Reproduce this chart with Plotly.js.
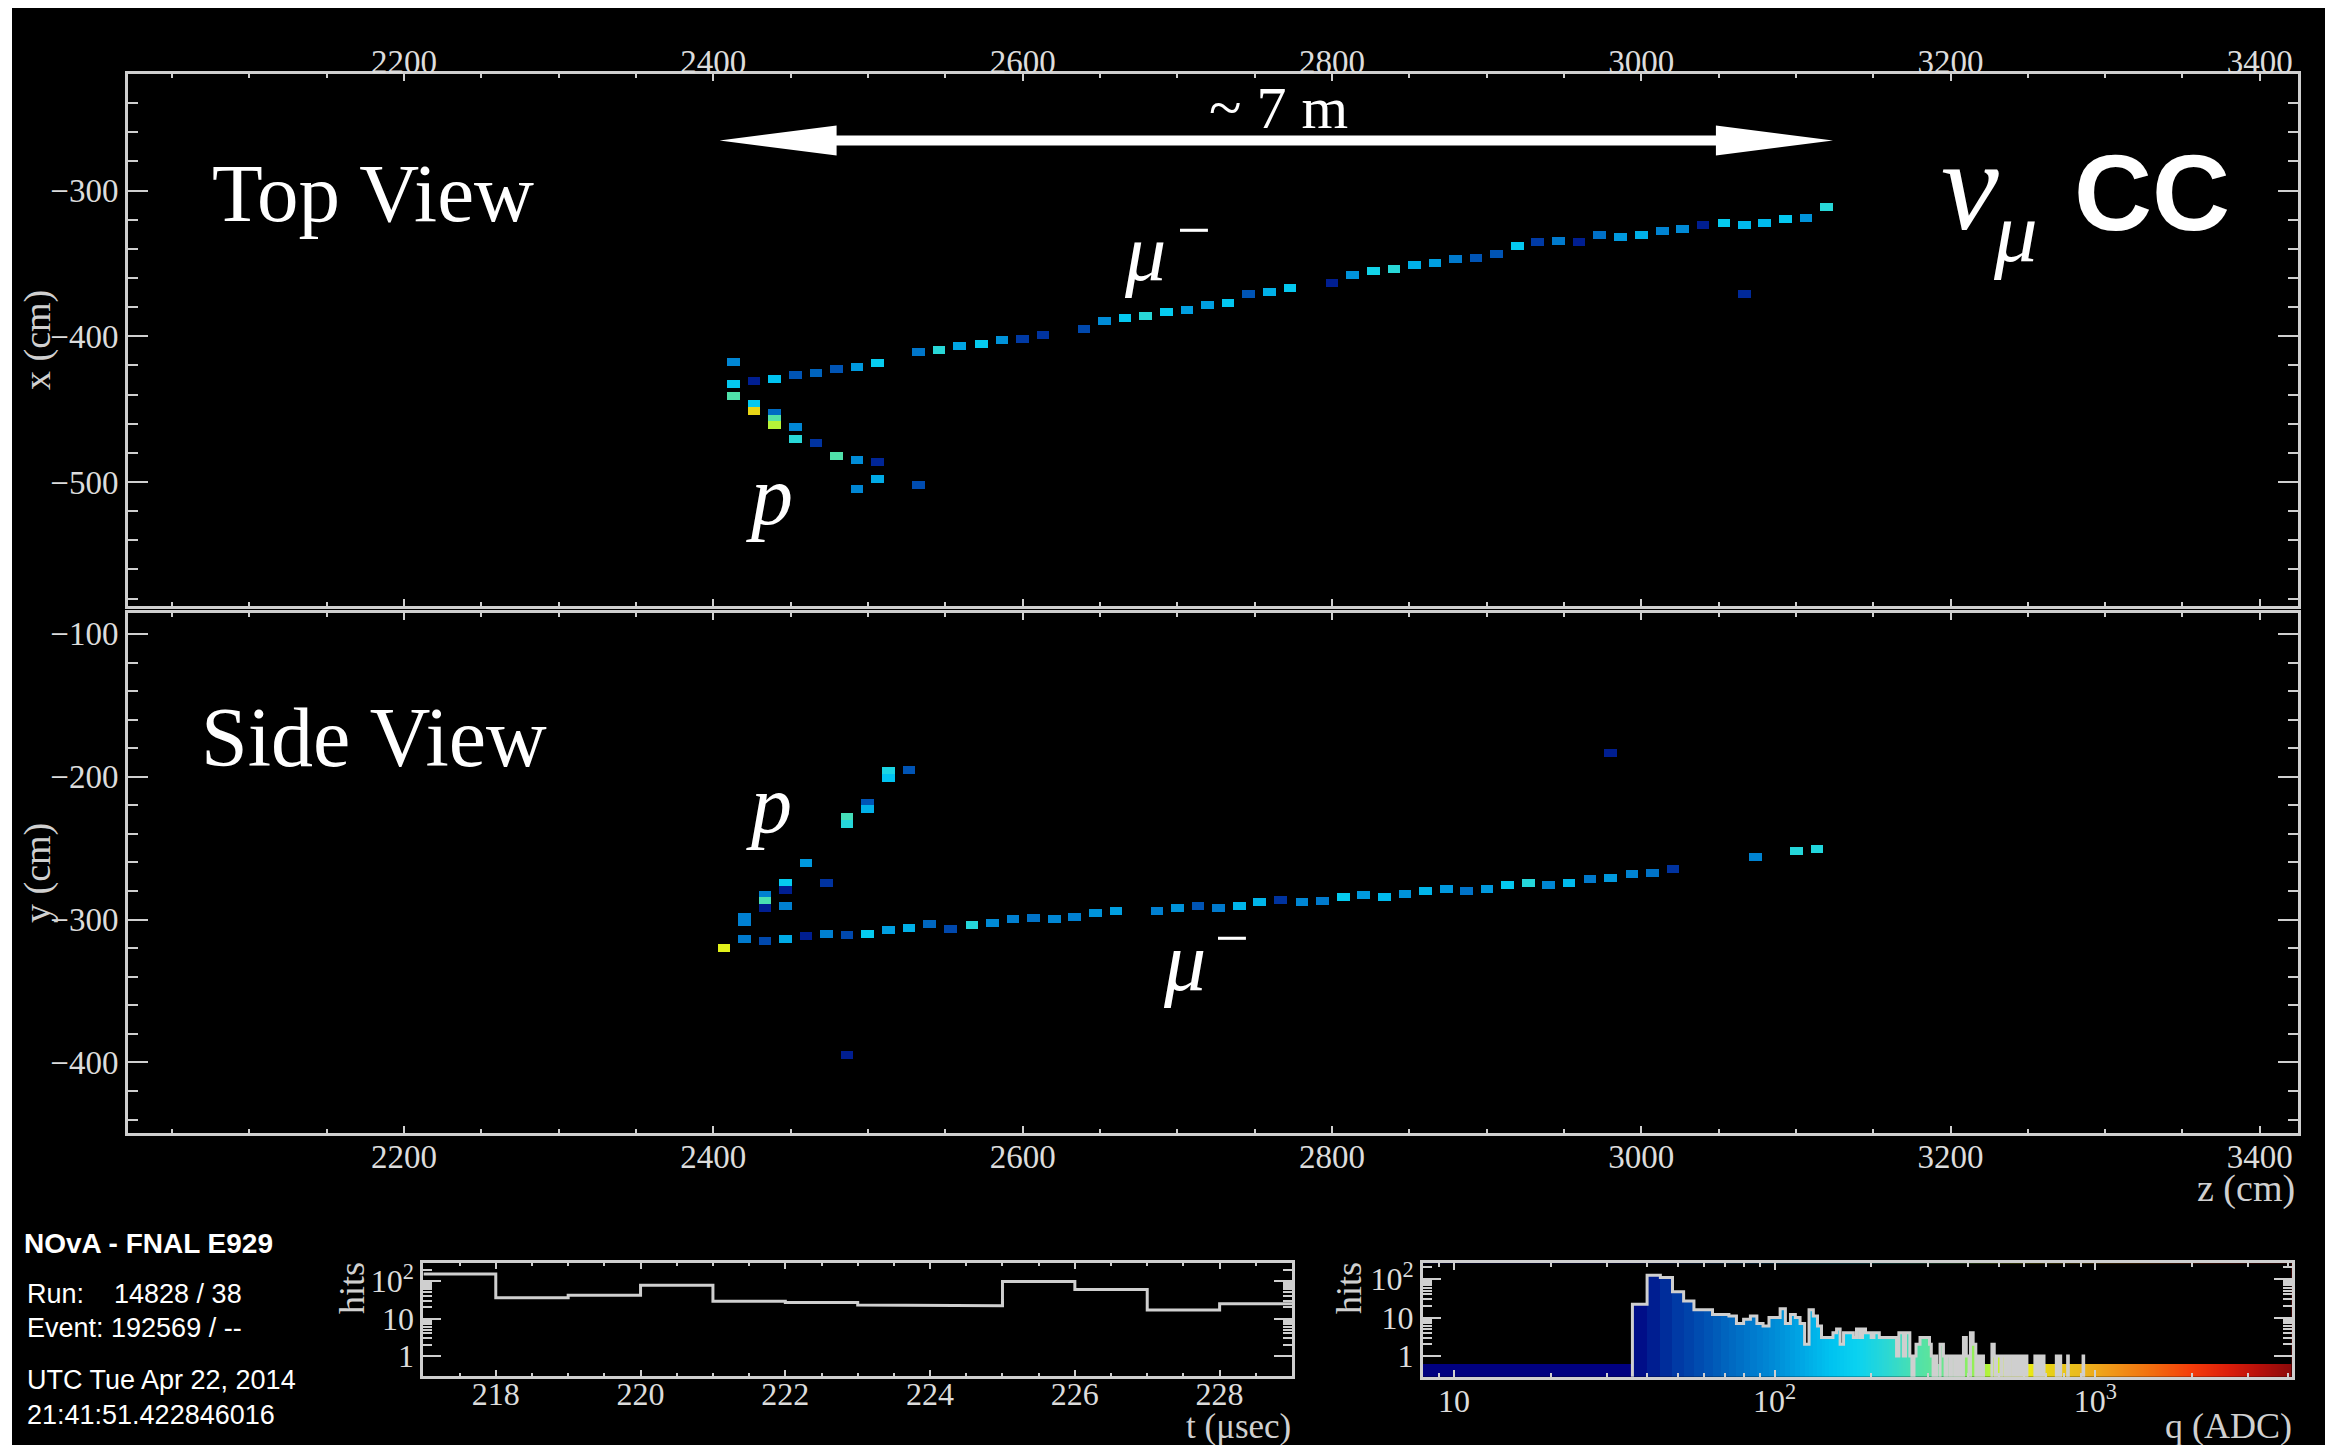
<!DOCTYPE html>
<html><head><meta charset="utf-8">
<script src="https://cdn.plot.ly/plotly-3.0.1.min.js"></script>
<style>html,body{margin:0;padding:0;background:#fff;overflow:hidden}#plot{width:2325px;height:1445px}</style>
</head><body><div id="plot"></div>
<script>
// ================= DATA =================
// Top view hits: z (cm), x (cm), charge q (ADC)
const topZ = [2412.9,2412.9,2412.9,2426.3,2426.3,2426.3,2439.7,2439.7,2439.7,2439.7,2453.0,2453.0,2453.0,2466.4,2466.4,2479.5,2479.5,2492.9,2492.9,2492.9,2506.0,2506.0,2506.0,2532.8,2532.8,2545.9,2559.3,2573.3,2586.7,2599.8,2613.2,2639.7,2653.1,2666.2,2679.6,2693.0,2706.3,2719.7,2732.7,2746.2,2759.7,2772.8,2800.0,2813.2,2826.7,2840.2,2853.3,2866.6,2879.8,2893.2,2906.4,2919.9,2933.1,2946.6,2959.8,2973.0,2986.5,3000.4,3013.6,3026.8,3040.0,3053.5,3066.7,3066.7,3079.9,3093.3,3106.5,3119.7];
const topX = [-417.4,-432.9,-441.0,-430.5,-446.7,-451.3,-429.1,-452.6,-456.5,-461.1,-426.3,-462.3,-470.3,-425.2,-473.0,-422.4,-482.2,-421.3,-484.9,-504.6,-418.6,-486.1,-497.9,-410.8,-502.1,-409.6,-406.9,-405.5,-402.7,-401.6,-398.9,-395.0,-389.7,-387.2,-385.8,-383.3,-381.9,-378.7,-377.4,-371.0,-369.6,-366.8,-363.2,-357.7,-355.2,-353.8,-351.1,-349.9,-347.2,-346.0,-343.3,-338.0,-335.5,-334.4,-335.5,-330.3,-331.6,-330.3,-327.5,-326.4,-323.6,-322.5,-323.6,-370.8,-322.5,-319.7,-318.6,-311.3];
const topQ = [95,160,280,42,160,700,150,75,290,470,62,95,220,70,48,62,280,110,100,95,170,44,125,82,58,220,120,165,105,50,48,56,100,160,220,165,115,115,155,62,130,160,42,105,190,220,130,115,85,62,62,160,50,85,42,78,110,130,92,98,42,165,140,45,140,160,105,220];

// Side view hits: z (cm), y (cm), charge q (ADC)
const sideZ = [2406.9,2420.0,2420.0,2420.0,2433.4,2433.4,2433.4,2433.4,2446.6,2446.6,2446.6,2446.6,2460.0,2460.0,2473.1,2473.1,2486.5,2486.5,2486.5,2486.5,2499.9,2499.9,2499.9,2513.2,2513.2,2513.2,2526.5,2526.5,2539.9,2553.3,2567.3,2580.7,2593.8,2607.2,2620.5,2633.7,2647.1,2660.4,2686.9,2700.0,2713.4,2726.7,2740.1,2753.3,2766.8,2780.7,2793.9,2807.4,2820.6,2833.8,2847.3,2860.5,2873.9,2887.1,2900.3,2913.5,2927.0,2940.2,2953.4,2966.9,2980.1,2980.1,2994.1,3007.3,3020.5,3073.8,3100.5,3113.7];
const sideY = [-319.9,-298.2,-301.9,-313.6,-283.0,-286.8,-291.7,-315.2,-274.4,-279.3,-290.3,-313.8,-260.2,-311.3,-274.4,-309.9,-228.2,-232.9,-311.0,-395.0,-218.4,-222.8,-309.9,-196.0,-200.7,-307.1,-195.3,-306.1,-303.3,-306.4,-303.8,-302.6,-299.6,-298.7,-299.6,-298.0,-295.6,-294.0,-294.0,-291.7,-290.3,-291.7,-290.3,-287.7,-286.3,-287.9,-287.0,-284.0,-283.0,-284.0,-282.1,-279.8,-278.4,-279.8,-278.4,-275.8,-274.6,-275.8,-274.6,-271.8,-270.7,-183.2,-268.1,-267.2,-264.4,-256.2,-251.8,-250.4];
const sideQ = [570,90,90,85,90,270,42,56,165,42,90,125,110,42,48,90,260,215,56,42,62,130,165,200,150,115,62,130,72,56,215,98,90,80,95,90,105,115,90,105,62,85,135,135,48,95,85,165,110,140,105,135,110,80,110,160,215,95,140,85,110,42,92,80,48,92,215,210];

// Timing histogram (1 usec bins)
const timeBinLow = [217,218,219,220,221,222,223,224,225,226,227,228];
const timeCounts = [154,36,42,77,29,27,23,22,98,60,17,25];

// Charge histogram: non-empty 4-ADC bins (lower edge) and their counts
const qBinLow = [36,40,44,48,52,56,60,64,68,72,76,80,84,88,92,96,100,104,108,112,116,120,124,128,132,136,
  140,144,148,152,156,160,164,168,172,176,180,184,188,192,196,200,204,208,212,216,220,224,228,232,236,240,244,248,252,256,260,264,
  272,276,280,284,288,292,296,300,304,308,
  316,328,332,336,344,348,356,360,368,372,380,388,392,396,400,408,412,416,420,428,432,444,476,480,484,
  492,496,500,504,512,516,520,528,532,540,544,548,556,568,576,592,600,608,648,656,664,680,688,756,764,776,820,916];
const qCounts = [22,126,110,47,27,16,16,12,12,11,7,9,11,7,6,10,10,17,7,12,10,7,2,16,11,6,
  3,3,3,4,5,2,4,4,4,3,5,3,5,4,4,3,4,4,3,3,3,3,3,3,3,1,4,4,1,4,4,1,
  1,2,2,3,3,3,3,3,2,1,
  1,2,2,1,1,1,1,1,1,1,1,3,3,1,1,4,4,2,2,1,1,1,2,2,1,
  1,1,1,1,1,1,1,1,1,1,1,1,1,1,1,1,1,1,1,1,1,1,1,1,1,1,1,1];

// Scale-arrow end points (z, cm)
const arrowZ = [2404, 3124];

// ================= STYLE / HELPERS =================
const W = 2325, H = 1445;
const HIT_W = 8.2, HIT_H = 5.5;          // hit cell size in cm
const BAND = 0.62;                        // colour band height in charge histogram
const palStops = [[35,[0,0,128]],[42,[0,30,145]],[50,[0,58,165]],[60,[0,80,178]],[70,[0,100,190]],[85,[0,122,205]],
  [100,[0,140,215]],[120,[0,165,228]],[150,[0,195,240]],[180,[10,210,240]],[220,[40,215,215]],[280,[80,225,170]],
  [350,[110,232,135]],[420,[150,240,85]],[500,[200,245,40]],[600,[235,240,20]],[720,[232,208,22]],[900,[235,185,30]],
  [1100,[240,155,25]],[1500,[242,110,15]],[2000,[245,60,10]],[2600,[220,30,10]],[3300,[180,15,10]],[4096,[140,10,10]]];
function palRGB(q){
  if(q<=palStops[0][0]) return 'rgb('+palStops[0][1].join(',')+')';
  for(let i=1;i<palStops.length;i++){
    if(q<=palStops[i][0]){
      const a=palStops[i-1], b=palStops[i];
      const t=(Math.log10(q)-Math.log10(a[0]))/(Math.log10(b[0])-Math.log10(a[0]));
      const c=a[1].map((v,k)=>Math.round(v+(b[1][k]-v)*t));
      return 'rgb('+c.join(',')+')';
    }
  }
  return 'rgb('+palStops[palStops.length-1][1].join(',')+')';
}
const lmin=Math.log10(35), lmax=Math.log10(4096);
const colorscale = palStops.map(s=>[(Math.log10(s[0])-lmin)/(lmax-lmin),'rgb('+s[1].join(',')+')']);

// charge histogram helpers
const countAt = {}; qBinLow.forEach((q,i)=>{countAt[q]=qCounts[i];});
const qEdges=[]; for(let e=8;e<=4096;e+=4) qEdges.push(e);
const qCenters = qEdges.slice(0,-1).map(e=>Math.log10(e+2));
const maskX=[8], maskY=[1000], olX=[], olY=[];
for(let i=0;i<qEdges.length-1;i++){
  const lo=qEdges[i], hi=qEdges[i+1], c=countAt[lo]||0;
  const h=Math.max(c,BAND);
  maskX.push(lo,hi); maskY.push(h,h);
  const v=c>0?c:0.02; olX.push(lo,hi); olY.push(v,v);
}
maskX.push(4096); maskY.push(1000);
const tX=[], tY=[];
timeBinLow.forEach((t,i)=>{tX.push(t,t+1); tY.push(timeCounts[i],timeCounts[i]);});

const axisCol='#cfcfcf', tickCol='#dcdcdc';
const serif='Liberation Serif, Times New Roman, serif';
const sans='Liberation Sans, Arial, sans-serif';
function ax(extra){
  return Object.assign({showgrid:false, zeroline:false, showline:true, linecolor:axisCol, linewidth:3, mirror:'ticks',
    ticks:'inside', tickcolor:axisCol, tickwidth:2, tickfont:{family:serif,size:33,color:tickCol}, fixedrange:true}, extra);
}
const dx=(a,b)=>[a/W,b/W], dy=(top,bot)=>[1-bot/H,1-top/H];

// ================= TRACES =================
const traces = [
  {type:'bar', x:topZ, y:topZ.map(()=>HIT_H), base:topX.map(v=>v-HIT_H/2), width:HIT_W,
   marker:{color:topQ.map(palRGB), line:{width:0}}, xaxis:'x', yaxis:'y', hoverinfo:'skip'},
  {type:'bar', x:sideZ, y:sideZ.map(()=>HIT_H), base:sideY.map(v=>v-HIT_H/2), width:HIT_W,
   marker:{color:sideQ.map(palRGB), line:{width:0}}, xaxis:'x2', yaxis:'y2', hoverinfo:'skip'},
  {type:'scatter', mode:'lines', x:tX, y:tY, line:{color:axisCol, width:3}, xaxis:'x3', yaxis:'y3', hoverinfo:'skip'},
  {type:'heatmap', x:qEdges, y:[0.01,1000], z:[qCenters], colorscale:colorscale, zmin:lmin, zmax:lmax, zauto:false,
   showscale:false, xaxis:'x4', yaxis:'y4', hoverinfo:'skip'},
  {type:'scatter', mode:'lines', x:maskX, y:maskY, fill:'toself', fillcolor:'#000', line:{width:0, color:'#000'},
   xaxis:'x4', yaxis:'y4', hoverinfo:'skip'},
  {type:'scatter', mode:'lines', x:olX, y:olY, line:{color:axisCol, width:3}, xaxis:'x4', yaxis:'y4', hoverinfo:'skip'}
];

// ================= LAYOUT =================
function ann(text, px, py, o){
  return Object.assign({text:text, x:px/W, y:1-py/H, xref:'paper', yref:'paper', showarrow:false,
    xanchor:'center', yanchor:'middle', font:{family:serif, size:33, color:'#fff'}}, o||{});
}
const lab = {family:serif, size:38, color:'#d0d0d0'};
const info = {family:sans, size:27, color:'#fff'};
const annotations = [
  ann('Top View', 373, 193, {font:{family:serif,size:83,color:'#fff'}}),
  ann('Side View', 374, 737, {font:{family:serif,size:84,color:'#fff'}}),
  ann('~ 7 m', 1278, 108, {font:{family:serif,size:60,color:'#fff'}}),
  ann('<i>μ</i>', 1145, 252, {font:{family:serif,size:82,color:'#fff'}}),
  ann('−', 1194, 230, {font:{family:serif,size:60,color:'#fff'}}),
  ann('<i>μ</i>', 1184, 961, {font:{family:serif,size:84,color:'#fff'}}),
  ann('−', 1232, 938, {font:{family:serif,size:60,color:'#fff'}}),
  ann('<i>p</i>', 769, 496, {font:{family:serif,size:84,color:'#fff'}}),
  ann('<i>p</i>', 769, 804, {font:{family:serif,size:82,color:'#fff'}}),
  ann('<i>ν</i>', 1970, 185, {font:{family:serif,size:130,color:'#fff'}}),
  ann('<i>μ</i>', 2015, 231, {font:{family:serif,size:87,color:'#fff'}}),
  ann('<b>CC</b>', 2152, 192, {font:{family:sans,size:108,color:'#fff'}}),
  ann('x (cm)', 37, 340, {textangle:-90, font:lab}),
  ann('y (cm)', 37, 873, {textangle:-90, font:lab}),
  ann('z (cm)', 2297, 1188, {xanchor:'right', font:lab}),
  ann('hits', 352, 1288, {textangle:-90, font:{family:serif,size:36,color:'#d0d0d0'}}),
  ann('hits', 1349, 1288, {textangle:-90, font:{family:serif,size:36,color:'#d0d0d0'}}),
  ann('t (μsec)', 1293, 1426, {xanchor:'right', font:{family:serif,size:35,color:'#d0d0d0'}}),
  ann('q (ADC)', 2294, 1426, {xanchor:'right', font:{family:serif,size:36,color:'#d0d0d0'}}),
  ann('<b>NOvA - FNAL E929</b>', 22, 1243, {xanchor:'left', font:{family:sans,size:28,color:'#fff'}}),
  ann('Run:\u00a0\u00a0\u00a0 14828 / 38', 25, 1294, {xanchor:'left', font:info}),
  ann('Event: 192569 / --', 25, 1328, {xanchor:'left', font:info}),
  ann('UTC Tue Apr 22, 2014', 25, 1380, {xanchor:'left', font:info}),
  ann('21:41:51.422846016', 25, 1415, {xanchor:'left', font:info})
];

const yc=1-140.5/H, sh=5/H, hh=15/H, hl=75.7, z0=arrowZ[0], z1=arrowZ[1];
const arrowPath = `M ${z0},${yc} L ${z0+hl},${yc+hh} L ${z0+hl},${yc+sh} L ${z1-hl},${yc+sh} L ${z1-hl},${yc+hh} L ${z1},${yc} L ${z1-hl},${yc-hh} L ${z1-hl},${yc-sh} L ${z0+hl},${yc-sh} L ${z0+hl},${yc-hh} Z`;

const shapes = [
  {type:'path', path:arrowPath, xref:'x', yref:'paper', fillcolor:'#fff', line:{width:0}, layer:'above'},
  {type:'rect', xref:'paper', yref:'paper', x0:0, x1:12/W, y0:0, y1:1, fillcolor:'#fff', line:{width:0}, layer:'above'},
  {type:'rect', xref:'paper', yref:'paper', x0:0, x1:1, y0:1-8/H, y1:1, fillcolor:'#fff', line:{width:0}, layer:'above'}
];

const mainX = dx(128,2298);
const minorLog = [2,3,4,5,6,7,8,9,20,30,40,50,60,70,80,90,200];
const layout = {
  width:W, height:H, margin:{l:0,r:0,t:0,b:0}, paper_bgcolor:'#000', plot_bgcolor:'#000',
  showlegend:false, barmode:'overlay', bargap:0,
  xaxis: ax({domain:mainX, anchor:'y', side:'top', range:[2021.5,3424.7], tick0:2200, dtick:200, ticklen:7,
     ticklabelstandoff:-15,
     minor:{ticks:'inside', tick0:2200, dtick:50, ticklen:4, tickwidth:2, tickcolor:axisCol}}),
  yaxis: ax({domain:dy(74.3,605.8), anchor:'x', range:[-585,-220.2], tick0:0, dtick:100, ticklen:20,
     minor:{ticks:'inside', tick0:0, dtick:20, ticklen:10, tickwidth:2, tickcolor:axisCol}}),
  xaxis2: ax({domain:mainX, anchor:'y2', side:'bottom', range:[2021.5,3424.7], tick0:2200, dtick:200, ticklen:7,
     ticklabelstandoff:-8,
     minor:{ticks:'inside', tick0:2200, dtick:50, ticklen:4, tickwidth:2, tickcolor:axisCol}}),
  yaxis2: ax({domain:dy(612.5,1132.9), anchor:'x2', range:[-449.3,-85], tick0:0, dtick:100, ticklen:20,
     minor:{ticks:'inside', tick0:0, dtick:20, ticklen:10, tickwidth:2, tickcolor:axisCol}}),
  xaxis3: ax({domain:dx(423.4,1292), anchor:'y3', range:[217,229], tick0:218, dtick:2, ticklen:6,
     ticklabelstandoff:-12, tickfont:{family:serif,size:32,color:tickCol},
     minor:{ticks:'inside', tick0:217, dtick:0.5, ticklen:3, tickwidth:2, tickcolor:axisCol}}),
  yaxis3: ax({domain:dy(1262.7,1375.7), anchor:'x3', type:'log', range:[-0.525,2.49], tickmode:'array',
     tickvals:[1,10,100], ticktext:['1','10','10<sup>2</sup>'], ticklen:18, tickfont:{family:serif,size:32,color:tickCol},
     minor:{ticks:'inside', tickmode:'array', tickvals:minorLog, ticklen:9, tickwidth:2, tickcolor:axisCol}}),
  xaxis4: ax({domain:dx(1423,2291.6), anchor:'y4', type:'log', range:[Math.log10(8),Math.log10(4096)], tickmode:'array',
     tickvals:[10,100,1000], ticktext:['10','10<sup>2</sup>','10<sup>3</sup>'], ticklen:7, ticklabelstandoff:-6,
     tickfont:{family:serif,size:32,color:tickCol},
     minor:{ticks:'inside', tickmode:'array', tickvals:[9,20,30,40,50,60,70,80,90,200,300,400,500,600,700,800,900,2000,3000,4000], ticklen:4, tickwidth:2, tickcolor:axisCol}}),
  yaxis4: ax({domain:dy(1263.3,1376.7), anchor:'x4', type:'log', range:[-0.54,2.41], tickmode:'array',
     tickvals:[1,10,100], ticktext:['1','10','10<sup>2</sup>'], ticklen:18, tickfont:{family:serif,size:32,color:tickCol},
     minor:{ticks:'inside', tickmode:'array', tickvals:minorLog, ticklen:9, tickwidth:2, tickcolor:axisCol}}),
  annotations: annotations,
  shapes: shapes
};

Plotly.newPlot('plot', traces, layout, {staticPlot:true, displayModeBar:false});
</script></body></html>
